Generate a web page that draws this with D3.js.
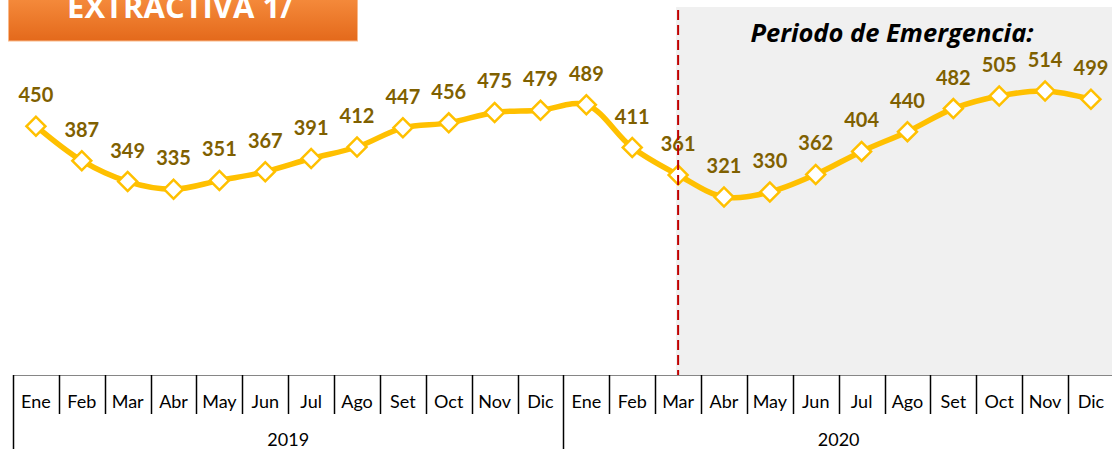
<!DOCTYPE html>
<html>
<head>
<meta charset="utf-8">
<script src="https://cdn.jsdelivr.net/npm/d3@7"></script>
<style>
  body { margin: 0; background: #fff; }
  svg { display: block; font-family: Lato, "Open Sans", sans-serif; }
</style>
</head>
<body>
<svg id="chart" width="1112" height="449"></svg>
<script>
// data
var months = ["Ene", "Feb", "Mar", "Abr", "May", "Jun", "Jul", "Ago", "Set", "Oct", "Nov", "Dic"];
var years = ["2019", "2020"];
var values2019 = [450, 387, 349, 335, 351, 367, 391, 412, 447, 456, 475, 479];
var values2020 = [489, 411, 361, 321, 330, 362, 404, 440, 482, 505, 514, 499];
var emergencyStart = 14; // Mar 2020

var data = [];
values2019.forEach(function(v, i) { data.push({ key: "2019-" + i, month: months[i], value: v }); });
values2020.forEach(function(v, i) { data.push({ key: "2020-" + i, month: months[i], value: v }); });

var svg = d3.select("#chart"),
    width = +svg.attr("width"),
    height = +svg.attr("height");

var axisY = 375;

var x = d3.scaleBand()
    .domain(data.map(function(d) { return d.key; }))
    .range([13, 13 + 24 * 45.87])
    .padding(0);

var y = d3.scaleLinear()
    .domain([0, 680])
    .range([373, 0]);

function cx(d) { return x(d.key) + x.bandwidth() / 2; }

// emergency shaded area
var xStart = cx(data[emergencyStart]);
svg.append("rect")
    .attr("x", xStart - 2)
    .attr("y", 7)
    .attr("width", width - xStart + 2)
    .attr("height", axisY - 7)
    .attr("fill", "#f0f0f0");

svg.append("text")
    .attr("x", 892)
    .attr("y", 42)
    .attr("text-anchor", "middle")
    .attr("font-family", "'Open Sans', sans-serif")
    .attr("font-size", 25.5)
    .attr("font-weight", "bold")
    .attr("font-style", "italic")
    .attr("fill", "#000")
    .text("Periodo de Emergencia:");

// title box
var grad = svg.append("defs").append("linearGradient")
    .attr("id", "orange").attr("x1", 0).attr("y1", 0).attr("x2", 0).attr("y2", 1);
grad.append("stop").attr("offset", "0%").attr("stop-color", "#f68d3e");
grad.append("stop").attr("offset", "100%").attr("stop-color", "#e4691b");

svg.append("rect")
    .attr("x", 8.5).attr("y", -5)
    .attr("width", 349).attr("height", 46)
    .attr("fill", "url(#orange)")
    .attr("stroke", "#f9b98a")
    .attr("stroke-width", 1);

svg.append("text")
    .attr("x", 180)
    .attr("y", 18)
    .attr("text-anchor", "middle")
    .attr("font-family", "'Open Sans', sans-serif")
    .attr("font-size", 31)
    .attr("font-weight", "bold")
    .attr("fill", "#fff")
    .text("EXTRACTIVA 1/");

// line
var line = d3.line()
    .x(cx)
    .y(function(d) { return y(d.value); })
    .curve(d3.curveCatmullRom.alpha(0.5));

svg.append("path")
    .datum(data)
    .attr("d", line)
    .attr("fill", "none")
    .attr("stroke", "#ffc000")
    .attr("stroke-width", 5.5)
    .attr("stroke-linejoin", "round");

var diamond = d3.symbol().type(d3.symbolSquare).size(180);

svg.selectAll(".marker")
    .data(data)
    .enter().append("path")
    .attr("class", "marker")
    .attr("d", diamond)
    .attr("transform", function(d) { return "translate(" + cx(d) + "," + y(d.value) + ") rotate(45)"; })
    .attr("fill", "#fff")
    .attr("stroke", "#ffc000")
    .attr("stroke-width", 2.5);

svg.selectAll(".label")
    .data(data)
    .enter().append("text")
    .attr("class", "label")
    .attr("x", cx)
    .attr("y", function(d) { return y(d.value) - 24; })
    .attr("text-anchor", "middle")
    .attr("font-size", 20)
    .attr("font-weight", "bold")
    .attr("fill", "#7f6000")
    .text(function(d) { return d.value; });

// dashed emergency line
svg.append("line")
    .attr("x1", xStart).attr("x2", xStart)
    .attr("y1", 10).attr("y2", axisY)
    .attr("stroke", "#c00000")
    .attr("stroke-width", 2)
    .attr("stroke-dasharray", "10,5");

// category axis table
var axis = svg.append("g").attr("stroke", "#000").attr("stroke-width", 1);
axis.append("line")
    .attr("x1", 13).attr("x2", width)
    .attr("y1", axisY + 0.5).attr("y2", axisY + 0.5)
    .attr("stroke", "#868686");

var bounds = data.map(function(d) { return x(d.key); });
bounds.forEach(function(b, i) {
    axis.append("line")
        .attr("x1", Math.round(b) + 0.5).attr("x2", Math.round(b) + 0.5)
        .attr("y1", axisY).attr("y2", i % 12 === 0 ? height : 414)
        .attr("stroke-width", 1.5);
});

svg.selectAll(".month")
    .data(data)
    .enter().append("text")
    .attr("class", "month")
    .attr("x", cx)
    .attr("y", 408)
    .attr("text-anchor", "middle")
    .attr("font-size", 18)
    .attr("fill", "#000")
    .text(function(d) { return d.month; });

svg.selectAll(".year")
    .data(years)
    .enter().append("text")
    .attr("class", "year")
    .attr("x", function(d, i) { return x(data[i * 12].key) + x.bandwidth() * 6; })
    .attr("y", 446)
    .attr("text-anchor", "middle")
    .attr("font-size", 18)
    .attr("fill", "#000")
    .text(function(d) { return d; });
</script>
</body>
</html>
